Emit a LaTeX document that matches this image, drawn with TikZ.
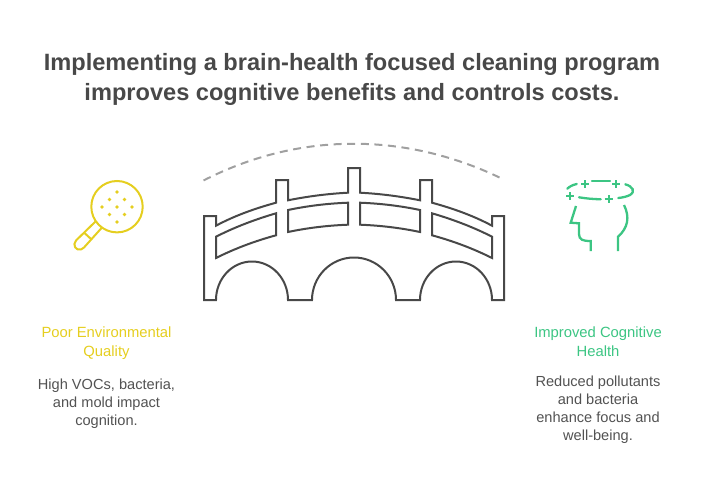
\documentclass[tikz,border=0pt]{standalone}
\usepackage{fontspec}
\setmainfont{Liberation Sans}
\usepackage{tikz}
\usetikzlibrary{positioning}
\definecolor{inkgray}{HTML}{484848}
\definecolor{bodygray}{HTML}{525252}
\definecolor{dashgray}{HTML}{A0A0A0}
\definecolor{lensyellow}{HTML}{E5CE1F}
\definecolor{headgreen}{HTML}{3CC583}

\begin{document}
\begin{tikzpicture}[x=1pt, y=-1pt, node distance=10pt,
  titletext/.style={text=inkgray, font=\fontsize{23.6}{30.5}\selectfont\bfseries, align=center},
  headtext/.style={font=\fontsize{14.8}{18.5}\selectfont, align=center, anchor=north},
  bodytext/.style={text=bodygray, font=\fontsize{14.6}{18}\selectfont, align=center},
  bridgeline/.style={inkgray, line width=2pt, line join=miter},
  lensline/.style={lensyellow, line width=2pt},
  headline/.style={headgreen, line width=2.3pt, line cap=round}]
\useasboundingbox (0,0) rectangle (708,492);

\node[titletext] (title) at (352,79.5) {Implementing a brain-health focused cleaning program\\improves cognitive benefits and controls costs.};

\node[headtext, text=lensyellow] (poorhead) at (106.5,323.5) {Poor Environmental\\Quality};
\node[bodytext, below=13pt of poorhead] (poorbody) {High VOCs, bacteria,\\and mold impact\\cognition.};
\node[headtext, text=headgreen] (goodhead) at (598,323.5) {Improved Cognitive\\Health};
\node[bodytext, below=12pt of goodhead] (goodbody) {Reduced pollutants\\and bacteria\\enhance focus and\\well-being.};

% dashed arc
\draw[dashgray, line width=2pt, dash pattern=on 8pt off 5.6pt] (203.5,180.5) .. controls (298,132) and (404,132) .. (499.5,177.5);

% bridge outline
\draw[bridgeline] (204,300) -- (204,216) -- (216,216) -- (216,225.7)
  .. controls (235,215.5) and (255,208.5) .. (276,202.7) -- (276,180) -- (288,180) -- (288,200.3)
  .. controls (307,196.5) and (327,193.8) .. (348,192.7) -- (348,168) -- (360,168) -- (360,192.7)
  .. controls (381,193.8) and (401,196.5) .. (420,200.3) -- (420,180) -- (432,180) -- (432,202.7)
  .. controls (453,208.5) and (473,215.5) .. (492,225.7) -- (492,216) -- (504,216) -- (504,300) -- (492,300)
  arc[start angle=0, end angle=-180, x radius=36, y radius=38.5] -- (396,300)
  arc[start angle=0, end angle=-180, x radius=42, y radius=42.5] -- (288,300)
  arc[start angle=0, end angle=-180, x radius=36, y radius=38.5] -- cycle;

% rail panels
\draw[bridgeline] (216,236.7) .. controls (235,227) and (255,219.5) .. (276,213.3) -- (276,235.3)
  .. controls (255,241) and (235,248.5) .. (216,258) -- cycle;
\draw[bridgeline] (288,210) .. controls (307,206) and (327,203.5) .. (348,202.7) -- (348,224.7)
  .. controls (327,225.5) and (307,228) .. (288,232) -- cycle;
\draw[bridgeline] (360,202.7) .. controls (381,203.5) and (401,206) .. (420,210) -- (420,232)
  .. controls (401,228) and (381,225.5) .. (360,224.7) -- cycle;
\draw[bridgeline] (432,213.3) .. controls (453,219.5) and (473,227) .. (492,236.7) -- (492,258)
  .. controls (473,248.5) and (453,241) .. (432,235.3) -- cycle;

% magnifier
\draw[lensline] (117,206.7) circle[radius=25.7];
\draw[lensline, line join=round] (95.5,221.5) -- (76,240.5) .. controls (72,245) and (76,251) .. (81,249.5)
  .. controls (82.5,249) and (83,248.5) .. (84,247.5) -- (102,227.5);
\draw[lensline] (84.5,233) -- (91,239);
\foreach \dotx/\doty in {117/192, 109.5/199.5, 124.5/199.5, 102/207, 117/207, 132/207, 109.5/214.5, 124.5/214.5, 117/222}
  \fill[lensyellow] (\dotx,\doty) circle[radius=1.8];

% head
\draw[headline] (576.7,184) .. controls (572,185) and (569,187) .. (567.3,188.7);
\draw[headline] (592,181) -- (610,181);
\draw[headline] (625.3,184.3) .. controls (633,186.5) and (635.5,191.5) .. (630,195) .. controls (627,196.5) and (623,197.5) .. (618.3,198);
\draw[headline] (579,197.3) .. controls (586,198.5) and (592,199) .. (600.7,199.3);
\foreach \plusx/\plusy in {585/184, 616/184, 570/196.3, 608.7/199.3}
  \draw[headline, line cap=butt] (\plusx-4,\plusy) -- (\plusx+4,\plusy) (\plusx,\plusy-4) -- (\plusx,\plusy+4);
\draw[headline, line cap=butt] (576,206) -- (570.7,222.7) -- (579,223.3) -- (579,234) .. controls (579,240) and (583,241) .. (590.7,241) -- (590.7,251);
\draw[headline, line cap=butt] (624,205) .. controls (630,217) and (628,228) .. (618,236.7) -- (618,251);

\end{tikzpicture}
\end{document}
